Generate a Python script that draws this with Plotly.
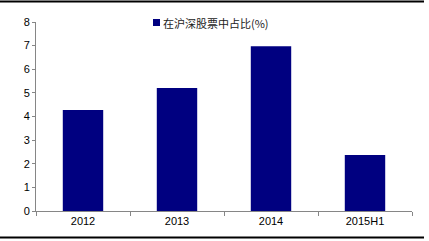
import plotly.graph_objects as go

categories = ["2012", "2013", "2014", "2015H1"]
values = [4.28, 5.21, 6.97, 2.37]
series_name = "在沪深股票中占比(%)"
y_ticks = [0, 1, 2, 3, 4, 5, 6, 7, 8]

W, H = 429, 241
ml, mr, mt, mb = 36, 17, 22, 30
pw, ph = W - ml - mr, H - mt - mb
bar_color = "#000080"

def px_x(px):
    return (px - ml) / pw

def px_y(py):
    return (H - mb - py) / ph

fig = go.Figure()
fig.add_trace(go.Bar(x=categories, y=values, name=series_name,
                     marker=dict(color=bar_color, line=dict(width=0)),
                     width=0.43, showlegend=False))

fig.update_layout(
    width=W, height=H,
    margin=dict(l=ml, r=mr, t=mt, b=mb),
    paper_bgcolor="white", plot_bgcolor="white",
    font=dict(family="Liberation Sans, Arial", size=11, color="black"),
    showlegend=False,
    xaxis=dict(showline=True, linecolor="#868686", linewidth=1,
               ticks="outside", ticklen=4, tickcolor="#868686",
               tickson="boundaries", showgrid=False,
               tickfont=dict(size=11, color="black")),
    yaxis=dict(range=[0, 8], tickvals=y_ticks, showline=True, linecolor="#868686",
               linewidth=1, ticks="outside", ticklen=3, tickcolor="#868686",
               showgrid=False, zeroline=False,
               tickfont=dict(size=11, color="black")),
)

# legend: square marker + text
fig.add_shape(type="rect", xref="paper", yref="paper",
              x0=px_x(153), x1=px_x(160), y0=px_y(26), y1=px_y(19),
              fillcolor=bar_color, line=dict(width=0))
fig.add_annotation(text=series_name, xref="paper", yref="paper",
                   x=px_x(161), y=px_y(22.5), xanchor="left", yanchor="middle",
                   showarrow=False,
                   font=dict(family="Noto Sans CJK SC", size=11, color="#222222"))

# top and bottom border lines
for py in (1.5, 237.5):
    yp = px_y(py)
    fig.add_shape(type="line", xref="paper", yref="paper",
                  x0=px_x(0), x1=px_x(424), y0=yp, y1=yp,
                  line=dict(color="black", width=2))

fig.write_html("out.html", config={"displayModeBar": False})
